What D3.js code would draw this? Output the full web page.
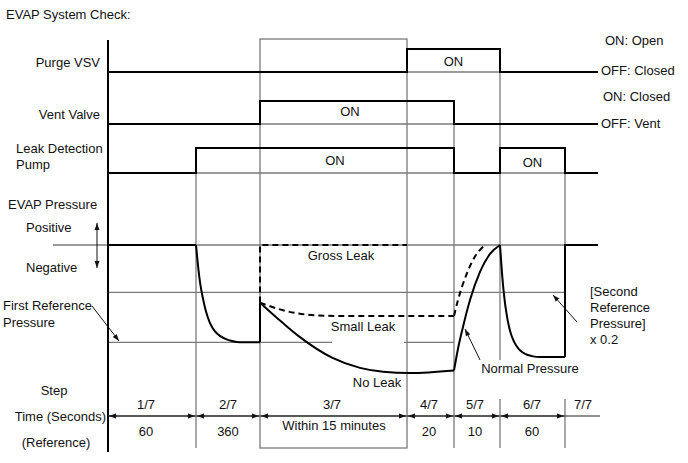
<!DOCTYPE html>
<html><head><meta charset="utf-8">
<script src="https://cdn.jsdelivr.net/npm/d3@7"></script>
<style>
body{margin:0;background:#fff}
svg{display:block}
text{font-family:"Liberation Sans",Arial,sans-serif;font-size:13px;fill:#111}
</style>
</head><body>
<svg id="c" width="688" height="463"></svg>
<script>
// ---------- DATA ----------
const stepLabels = ["1/7","2/7","3/7","4/7","5/7","6/7","7/7"];
const timeLabels = ["60","360","Within 15 minutes","20","10","60",""];
const stepEdges  = [0, 88, 152, 299, 346, 392, 457, 492];   // schematic time units
const tEnd = 490;

const purgeT = [0, 299, 392];          const purgeS = [0, 1, 0];
const ventT  = [0, 152, 346];          const ventS  = [0, 1, 0];
const pumpT  = [0, 88, 346, 392, 457]; const pumpS  = [0, 1, 0, 1, 0];

// EVAP pressure, relative units (0 = atmospheric, -100 = deepest)
const levelAtm = 0, levelSecondRef = -37, levelFirstRef = -76;
const step2T = [88, 90, 92, 95, 98, 102, 107, 112, 118, 124, 132, 152];
const step2P = [0, -16, -29, -42, -52, -61, -67.5, -71, -73.5, -75, -76, -76];
const noLeakT = [152, 175, 192, 224, 252, 275, 302, 346];
const noLeakP = [-45, -61, -72, -88, -96, -99, -100, -98];
const smallLeakT = [152, 175, 209, 242, 346];
const smallLeakP = [-45, -51, -55, -55.5, -55.5];
const smallRiseT = [346, 350, 359, 367, 377];
const smallRiseP = [-55.5, -43, -22, -9, 0];
const normalT = [346, 350, 355, 362, 372, 382, 392];
const normalP = [-98, -81, -64, -43, -21, -7, 0];
const step6T = [392, 394, 396, 399, 402, 406, 411, 417, 424, 432, 457];
const step6P = [0, -22, -39, -56, -67, -75.5, -81.5, -85, -86.8, -87.5, -87.5];
const grossT = [152, 152, 299];
const grossP = [-45, 0, 0];
const solidSegs = [
  {t:[0, 88], p:[0, 0]},
  {t:[152, 152], p:[levelFirstRef, -45]},
  {t:[457, 457, 490], p:[-87.5, 0, 0]}
];

// ---------- SCALES ----------
const svg = d3.select("#c");
const x = d3.scaleLinear().domain([0, tEnd]).range([108, 598]);
const yPurge = d3.scaleLinear().domain([0, 1]).range([72, 49]);
const yVent  = d3.scaleLinear().domain([0, 1]).range([124, 101]);
const yPump  = d3.scaleLinear().domain([0, 1]).range([173, 148]);
const yP     = d3.scaleLinear().domain([0, -100]).range([245, 373]);
const tableBottom = 448, arrowY = 416;

const GRAY = "#7a7a7a";
const zip = (a, b) => a.map((v, i) => [v, b[i]]);

// ---------- DEFS ----------
const defs = svg.append("defs");
defs.append("marker").attr("id","ah").attr("viewBox","0 0 10 10").attr("refX",10).attr("refY",5)
  .attr("markerWidth",7).attr("markerHeight",7).attr("markerUnits","userSpaceOnUse").attr("orient","auto-start-reverse")
  .append("path").attr("d","M0,1.5L10,5L0,8.5Z").attr("fill","#111");

const g = svg.append("g");

// ---------- GUIDE LINES (gray) ----------
const thin = (x1,y1,x2,y2) => g.append("line").attr("x1",x1).attr("y1",y1).attr("x2",x2).attr("y2",y2)
  .attr("stroke",GRAY).attr("stroke-width",1.3);
[yPurge, yVent, yPump].forEach(s => thin(x(0), s(0), x(tEnd), s(0)));
thin(53, yP(levelAtm), x(tEnd), yP(levelAtm));
thin(x(0), yP(levelSecondRef), x(457), yP(levelSecondRef));
thin(x(0), yP(levelFirstRef), x(224), yP(levelFirstRef));
thin(x(296), yP(levelFirstRef), x(346), yP(levelFirstRef));
g.append("rect").attr("x",x(152)).attr("y",39).attr("width",x(299)-x(152)).attr("height",tableBottom-39)
  .attr("fill","none").attr("stroke",GRAY).attr("stroke-width",1.3);
thin(x(88), yPump(1), x(88), tableBottom);
thin(x(346), yVent(1), x(346), tableBottom);
thin(x(392), yPurge(1), x(392), 360);
thin(x(392), 399, x(392), tableBottom);
thin(x(457), yPump(1), x(457), 357);
thin(x(457), 399, x(457), tableBottom);

// ---------- DIGITAL SIGNALS ----------
const stepLine = d3.line().x(d=>x(d[0])).curve(d3.curveStepAfter);
function signal(ts, ss, ys) {
  const pts = zip(ts, ss); pts.push([tEnd, ss[ss.length-1]]);
  g.append("path").attr("d", stepLine.y(d=>ys(d[1]))(pts))
    .attr("fill","none").attr("stroke","#000").attr("stroke-width",2);
}
signal(purgeT, purgeS, yPurge);
signal(ventT, ventS, yVent);
signal(pumpT, pumpS, yPump);

// ---------- PRESSURE ----------
const smooth = d3.line().x(d=>x(d[0])).y(d=>yP(d[1])).curve(d3.curveMonotoneX);
const straight = d3.line().x(d=>x(d[0])).y(d=>yP(d[1]));
const draw = (d, gen, dashed) => g.append("path").attr("d", gen(d)).attr("fill","none")
  .attr("stroke","#000").attr("stroke-width",2).attr("stroke-dasharray", dashed ? "6,4" : null);
draw(zip(step2T, step2P), smooth);
draw(zip(noLeakT, noLeakP), smooth);
draw(zip(normalT, normalP), smooth);
draw(zip(step6T, step6P), smooth);
solidSegs.forEach(s => draw(zip(s.t, s.p), straight));
draw(zip(smallLeakT, smallLeakP), smooth, true);
draw(zip(smallRiseT, smallRiseP), smooth, true);
draw(zip(grossT, grossP), straight, true);

// ---------- MAIN AXIS ----------
g.append("line").attr("x1",x(0)).attr("x2",x(0)).attr("y1",40).attr("y2",452).attr("stroke","#000").attr("stroke-width",2);

// ---------- ANNOTATION ARROWS ----------
const arrow = (x1,y1,x2,y2,both) => g.append("line").attr("x1",x1).attr("y1",y1).attr("x2",x2).attr("y2",y2)
  .attr("stroke","#111").attr("stroke-width",1).attr("marker-end","url(#ah)").attr("marker-start", both ? "url(#ah)" : null);
arrow(97, 268, 97, 223, true);
arrow(92, 306, 119, 341);
arrow(480, 360, 465, 329);
arrow(577, 322, 553, 295);

// ---------- TEXT ----------
const txt = (s, tx, ty, anchor) => g.append("text").attr("x",tx).attr("y",ty)
  .attr("text-anchor", anchor || "start").text(s);
txt("EVAP System Check:", 6, 19);
txt("Purge VSV", 100, 67, "end");
txt("Vent Valve", 100, 119, "end");
txt("Leak Detection", 16, 153);
txt("Pump", 16, 169);
txt("EVAP Pressure", 8, 209);
txt("Positive", 26, 232);
txt("Negative", 26, 272);
txt("First Reference", 3, 310);
txt("Pressure", 3, 327);

txt("ON: Open", 605, 45);
txt("OFF: Closed", 601, 75);
txt("ON: Closed", 603, 101);
txt("OFF: Vent", 601, 128);

txt("ON", (x(299)+x(392))/2, 66, "middle");
txt("ON", 350, 116, "middle");
txt("ON", 335, 165, "middle");
txt("ON", (x(392)+x(457))/2, 167, "middle");

txt("Gross Leak", 341, 260, "middle");
txt("Small Leak", 363, 331, "middle");
txt("No Leak", 377, 387, "middle");
txt("Normal Pressure", 530, 373, "middle");
["[Second","Reference","Pressure]","x 0.2"].forEach((s,i)=>txt(s, 590, 296 + i*16));

// ---------- TABLE ----------
txt("Step", 54, 395, "middle");
txt("Time (Seconds)", 106, 421, "end");
txt("(Reference)", 56, 447, "middle");
g.append("line").attr("x1",x(0)).attr("x2",x(stepEdges[7])).attr("y1",arrowY).attr("y2",arrowY)
  .attr("stroke","#222").attr("stroke-width",1);
for (let i = 0; i < 6; i++) {
  const a = x(stepEdges[i]), b = x(stepEdges[i+1]);
  g.append("line").attr("x1",(a+b)/2).attr("x2",a+1).attr("y1",arrowY).attr("y2",arrowY)
    .attr("stroke","#222").attr("stroke-width",1).attr("marker-end","url(#ah)");
  g.append("line").attr("x1",(a+b)/2).attr("x2",b-1).attr("y1",arrowY).attr("y2",arrowY)
    .attr("stroke","#222").attr("stroke-width",1).attr("marker-end","url(#ah)");
}
const centers = [146, 228, 332, 429, 475, 532, 583];
stepLabels.forEach((s,i) => txt(s, centers[i], 409, "middle"));
timeLabels.forEach((s,i) => { if (s) txt(s, centers[i] + (i===2 ? 2 : 0), i===2 ? 430 : 436, "middle"); });
</script>
</body></html>
